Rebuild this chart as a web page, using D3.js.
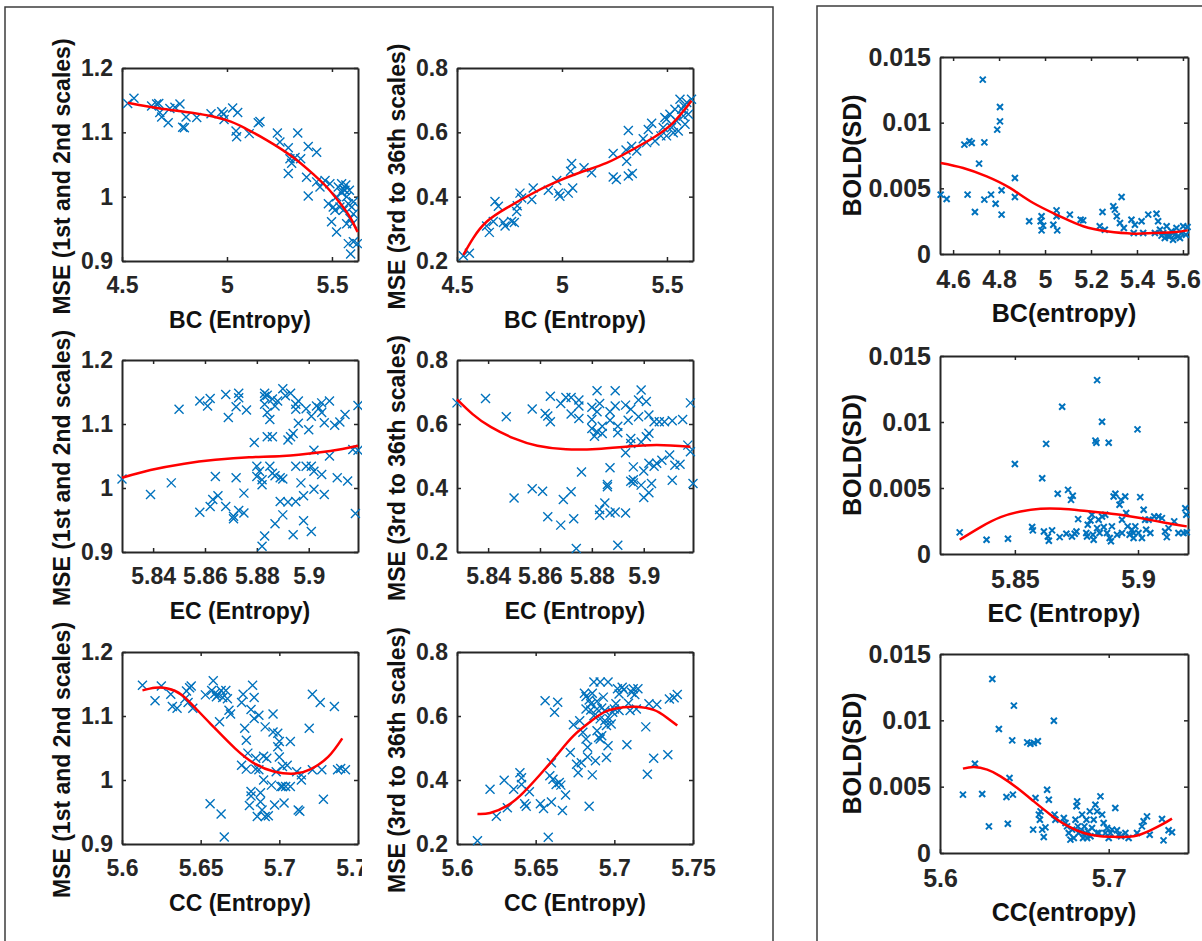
<!DOCTYPE html>
<html>
<head>
<meta charset="utf-8">
<script src="https://cdn.jsdelivr.net/npm/d3@7"></script>
<style>
  body { margin: 0; background: #fff; }
  svg { display: block; font-family: "Liberation Sans", Arial, sans-serif; font-weight: bold; }
</style>
</head>
<body>
<svg id="fig" width="1202" height="941"></svg>
<script>
// ---- tick values ----
var bcTicks = [4.5, 5, 5.5];
var bcBoldTicks = [4.6, 4.8, 5, 5.2, 5.4, 5.6];
var ecTicks = [5.84, 5.86, 5.88, 5.9];
var ecBoldTicks = [5.85, 5.9];
var ccTicks = [5.6, 5.65, 5.7, 5.75];
var ccBoldTicks = [5.6, 5.7];
var mse12Ticks = [0.9, 1, 1.1, 1.2];
var mse336Ticks = [0.2, 0.4, 0.6, 0.8];
var boldTicks = [0, 0.005, 0.01, 0.015];

// ---- BC (entropy) vs MSE 1st/2nd scales ----
var bcMse12 = [[4.527,1.145],[4.557,1.153],[4.641,1.141],[4.665,1.144],[4.675,1.145],[4.68,1.131],[4.689,1.124],
  [4.72,1.115],[4.728,1.137],[4.752,1.139],[4.776,1.144],[4.789,1.108],[4.797,1.107],[4.805,1.124],[4.856,1.123],
  [4.924,1.129],[4.975,1.132],[4.983,1.128],[4.986,1.12],[5.027,1.138],[5.051,1.131],[5.043,1.102],[5.046,1.093],
  [5.106,1.098],[5.149,1.115],[5.157,1.117],[5.24,1.099],[5.252,1.085],[5.292,1.076],[5.337,1.099],[5.3,1.059],
  [5.292,1.036],[5.308,1.052],[5.324,1.061],[5.351,1.059],[5.387,1.078],[5.427,1.069],[5.379,1.03],[5.387,1.001],
  [5.427,1.023],[5.443,1.015],[5.467,1.025],[5.49,1.02],[5.483,0.989],[5.498,0.961],[5.522,0.945],[5.506,0.984],
  [5.53,1.015],[5.546,1.02],[5.554,1.012],[5.562,1.01],[5.57,1.0],[5.578,0.989],[5.586,0.966],[5.594,0.984],
  [5.598,0.958],[5.578,0.927],[5.589,0.911],[5.602,0.93],[5.621,0.927],[5.538,0.984],[5.514,0.979],[5.554,0.979],
  [5.57,0.958],[5.602,0.973],[5.546,1.006],[5.522,1.0],[5.566,1.018],[5.583,1.01],[5.602,0.992]];
var bcMse12Fit = [[4.527,1.146],[4.681,1.137],[4.84,1.13],[4.998,1.119],[5.094,1.105],[5.189,1.088],[5.316,1.061],
  [5.411,1.035],[5.475,1.015],[5.538,0.99],[5.586,0.968],[5.622,0.945]];

// ---- BC (entropy) vs MSE 3rd to 36th scales ----
var bcMse336 = [[4.53,0.216],[4.559,0.224],[4.641,0.309],[4.654,0.289],[4.681,0.385],[4.697,0.37],[4.673,0.323],
  [4.721,0.32],[4.729,0.309],[4.76,0.323],[4.773,0.32],[4.787,0.372],[4.784,0.354],[4.8,0.411],[4.808,0.396],
  [4.863,0.427],[4.856,0.391],[4.935,0.42],[4.975,0.45],[4.983,0.411],[4.99,0.401],[5.046,0.503],[5.041,0.479],
  [5.03,0.411],[5.051,0.427],[5.105,0.49],[5.141,0.474],[5.244,0.534],[5.244,0.461],[5.259,0.453],[5.305,0.545],
  [5.316,0.606],[5.308,0.51],[5.316,0.464],[5.335,0.472],[5.332,0.557],[5.356,0.542],[5.387,0.58],[5.411,0.609],
  [5.427,0.628],[5.403,0.568],[5.443,0.573],[5.482,0.615],[5.49,0.646],[5.498,0.589],[5.514,0.656],[5.522,0.615],
  [5.538,0.672],[5.546,0.635],[5.562,0.703],[5.57,0.672],[5.578,0.651],[5.586,0.625],[5.594,0.693],[5.602,0.656],
  [5.617,0.703],[5.53,0.599],[5.554,0.604],[5.581,0.682],[5.498,0.641],[5.471,0.589]];
var bcMse336Fit = [[4.53,0.219],[4.578,0.272],[4.641,0.322],[4.737,0.365],[4.848,0.406],[4.959,0.442],[5.086,0.475],
  [5.213,0.505],[5.324,0.542],[5.435,0.583],[5.53,0.63],[5.617,0.698]];

// ---- BC (entropy) vs BOLD SD ----
var bcBold = [[4.546,0.00452],[4.572,0.00419],[4.649,0.00833],[4.671,0.00858],[4.681,0.00845],[4.663,0.00452],
  [4.695,0.0032],[4.713,0.00688],[4.729,0.01328],[4.736,0.0085],[4.736,0.00414],[4.765,0.00452],[4.785,0.00383],
  [4.792,0.00947],[4.804,0.0101],[4.804,0.01119],[4.811,0.00485],[4.811,0.003],[4.869,0.00579],[4.869,0.00434],
  [4.931,0.00249],[4.981,0.00249],[4.985,0.00287],[4.985,0.0018],[4.992,0.00216],[5.036,0.00223],[5.05,0.00332],
  [5.05,0.00287],[5.053,0.0018],[5.108,0.003],[5.155,0.00261],[5.166,0.00256],[5.25,0.0032],[5.238,0.00211],
  [5.26,0.00185],[5.297,0.00363],[5.304,0.00338],[5.312,0.00287],[5.333,0.00434],[5.326,0.00236],[5.343,0.00198],
  [5.376,0.00261],[5.386,0.0016],[5.391,0.00223],[5.42,0.00249],[5.427,0.0016],[5.449,0.003],[5.485,0.00307],
  [5.492,0.00249],[5.5,0.00185],[5.514,0.0016],[5.529,0.00211],[5.536,0.00135],[5.55,0.00173],[5.557,0.00109],
  [5.572,0.00198],[5.579,0.00135],[5.594,0.0016],[5.601,0.00211],[5.613,0.00147],[5.62,0.00206],[5.543,0.00135],
  [5.565,0.00147],[5.587,0.00122],[5.521,0.00122],[5.507,0.0014],[5.478,0.0016]];
var bcBoldFit = [[4.546,0.00693],[4.644,0.00655],[4.746,0.00591],[4.847,0.00503],[4.949,0.00388],[5.065,0.00287],
  [5.166,0.00211],[5.268,0.00173],[5.384,0.00155],[5.471,0.0016],[5.557,0.00165],[5.62,0.0018]];

// ---- EC (entropy) vs MSE 1st/2nd scales ----
var ecMse12 = [[5.828,1.014],[5.839,0.99],[5.847,1.008],[5.85,1.123],[5.858,0.962],[5.858,1.136],[5.861,1.128],
  [5.862,1.14],[5.862,0.971],[5.863,0.982],[5.864,1.018],[5.865,0.988],[5.868,1.146],[5.868,0.971],[5.869,1.11],
  [5.871,0.952],[5.871,0.956],[5.872,1.127],[5.872,1.016],[5.873,1.141],[5.873,1.148],[5.873,0.965],[5.875,0.961],
  [5.875,0.992],[5.876,1.122],[5.879,1.071],[5.88,1.034],[5.88,1.018],[5.881,1.026],[5.882,1.013],[5.882,1.005],
  [5.883,1.148],[5.883,1.143],[5.883,1.131],[5.884,1.118],[5.883,0.925],[5.882,0.909],[5.884,1.145],[5.884,1.08],
  [5.885,1.107],[5.885,1.034],[5.886,1.139],[5.886,1.023],[5.886,1.08],[5.887,1.019],[5.887,0.944],[5.887,1.128],
  [5.888,1.136],[5.889,1.016],[5.889,0.979],[5.89,0.958],[5.89,1.155],[5.89,1.014],[5.891,1.144],[5.892,0.978],
  [5.892,1.075],[5.893,1.08],[5.893,1.148],[5.894,0.927],[5.894,1.085],[5.895,0.979],[5.895,1.123],[5.895,1.131],
  [5.895,1.034],[5.896,1.101],[5.896,1.136],[5.897,1.008],[5.898,0.988],[5.898,0.949],[5.899,1.034],[5.899,1.124],
  [5.9,1.091],[5.901,0.932],[5.901,1.112],[5.901,1.034],[5.902,1.026],[5.902,0.998],[5.902,1.059],[5.903,1.128],
  [5.904,1.125],[5.905,1.133],[5.905,1.021],[5.905,1.118],[5.906,1.102],[5.906,0.99],[5.908,1.05],[5.908,1.136],
  [5.91,1.098],[5.911,1.016],[5.912,1.103],[5.914,1.115],[5.915,1.011],[5.917,1.06],[5.918,0.96],[5.919,1.129],
  [5.919,1.059]];
var ecMse12Fit = [[5.828,1.016],[5.839,1.028],[5.852,1.038],[5.864,1.044],[5.877,1.048],[5.89,1.05],[5.903,1.055],
  [5.913,1.061],[5.919,1.066]];

// ---- EC (entropy) vs MSE 3rd to 36th scales ----
var ecMse336 = [[5.828,0.666],[5.839,0.68],[5.847,0.623],[5.85,0.369],[5.857,0.647],[5.857,0.398],[5.861,0.39],
  [5.862,0.633],[5.863,0.31],[5.863,0.625],[5.864,0.607],[5.864,0.687],[5.868,0.284],[5.868,0.664],[5.869,0.364],
  [5.87,0.683],[5.872,0.631],[5.872,0.683],[5.872,0.388],[5.873,0.304],[5.874,0.211],[5.875,0.675],[5.875,0.656],
  [5.875,0.617],[5.876,0.45],[5.88,0.614],[5.88,0.586],[5.88,0.652],[5.881,0.562],[5.882,0.576],[5.882,0.638],
  [5.882,0.704],[5.883,0.664],[5.883,0.333],[5.883,0.315],[5.884,0.593],[5.884,0.57],[5.885,0.353],[5.886,0.411],
  [5.886,0.404],[5.887,0.638],[5.887,0.612],[5.887,0.463],[5.887,0.322],[5.889,0.656],[5.889,0.704],[5.889,0.325],
  [5.89,0.593],[5.89,0.573],[5.89,0.221],[5.893,0.659],[5.893,0.322],[5.893,0.51],[5.894,0.612],[5.895,0.555],
  [5.895,0.421],[5.895,0.646],[5.895,0.539],[5.896,0.426],[5.896,0.416],[5.896,0.466],[5.898,0.623],[5.898,0.675],
  [5.899,0.706],[5.899,0.409],[5.899,0.544],[5.9,0.37],[5.9,0.453],[5.901,0.56],[5.901,0.67],[5.902,0.628],
  [5.902,0.385],[5.902,0.477],[5.902,0.571],[5.903,0.414],[5.904,0.607],[5.904,0.468],[5.905,0.477],[5.906,0.607],
  [5.907,0.487],[5.908,0.607],[5.91,0.503],[5.911,0.61],[5.911,0.424],[5.912,0.471],[5.914,0.474],[5.915,0.614],
  [5.917,0.534],[5.918,0.666],[5.918,0.513],[5.919,0.414]];
var ecMse336Fit = [[5.828,0.677],[5.834,0.631],[5.841,0.591],[5.85,0.555],[5.859,0.532],[5.87,0.521],[5.882,0.522],
  [5.893,0.529],[5.905,0.534],[5.918,0.529]];

// ---- EC (entropy) vs BOLD SD ----
var ecBold = [[5.8276,0.00164],[5.8385,0.00108],[5.8472,0.00116],[5.85,0.00682],[5.857,0.00204],[5.8573,0.00179],
  [5.8611,0.00574],[5.8627,0.00834],[5.8618,0.00171],[5.8634,0.00133],[5.8638,0.00101],[5.8651,0.00179],
  [5.8674,0.00456],[5.8682,0.00128],[5.8692,0.01116],[5.8709,0.00154],[5.8716,0.00486],[5.8728,0.0041],
  [5.8735,0.00441],[5.8732,0.00133],[5.8743,0.00154],[5.875,0.00171],[5.8757,0.00264],[5.879,0.00159],
  [5.8796,0.00222],[5.8807,0.00254],[5.8813,0.00297],[5.8817,0.00146],[5.882,0.00108],[5.8827,0.00859],
  [5.8831,0.00843],[5.8834,0.01317],[5.8834,0.00196],[5.884,0.00259],[5.8844,0.00159],[5.8854,0.01002],
  [5.8854,0.00284],[5.8861,0.00204],[5.8867,0.00297],[5.8874,0.00159],[5.8881,0.00843],[5.8885,0.00121],
  [5.889,0.00096],[5.8894,0.00209],[5.8901,0.00436],[5.8908,0.00456],[5.8915,0.00146],[5.8925,0.00373],
  [5.8931,0.0041],[5.8935,0.00259],[5.8948,0.00436],[5.8952,0.0031],[5.8958,0.00209],[5.8966,0.00146],
  [5.8975,0.00184],[5.8982,0.00121],[5.8989,0.00209],[5.8998,0.00944],[5.9002,0.00159],[5.9009,0.00431],
  [5.9016,0.00121],[5.9023,0.00335],[5.9029,0.00259],[5.9033,0.00184],[5.9043,0.00259],[5.905,0.00159],
  [5.9066,0.00284],[5.9083,0.00284],[5.9097,0.00272],[5.911,0.00171],[5.9117,0.00128],[5.9124,0.00196],
  [5.9147,0.00247],[5.9164,0.00159],[5.9185,0.00159],[5.9192,0.00347],[5.9196,0.00297],[5.9198,0.00164],
  [5.8793,0.00133],[5.8935,0.00159],[5.8982,0.00159]];
var ecBoldFit = [[5.8276,0.00108],[5.8361,0.00204],[5.8442,0.00279],[5.8523,0.00322],[5.8604,0.00342],
  [5.8685,0.00342],[5.8766,0.0033],[5.8847,0.00315],[5.8928,0.00297],[5.9009,0.00272],[5.9104,0.00239],
  [5.9198,0.00209]];

// ---- CC (entropy) vs MSE 1st/2nd scales ----
var ccMse12 = [[5.613,1.148],[5.621,1.124],[5.625,1.147],[5.631,1.134],[5.632,1.115],[5.635,1.112],[5.64,1.127],
  [5.641,1.139],[5.643,1.144],[5.644,1.147],[5.645,1.112],[5.642,1.121],[5.653,1.133],[5.656,0.963],[5.657,1.14],
  [5.658,1.155],[5.659,1.135],[5.66,1.13],[5.661,1.133],[5.662,1.091],[5.663,0.947],[5.663,1.14],[5.664,1.129],
  [5.665,0.911],[5.666,1.14],[5.667,1.127],[5.668,1.109],[5.669,1.103],[5.676,1.121],[5.676,1.023],[5.677,1.134],
  [5.678,1.081],[5.679,1.062],[5.679,1.017],[5.68,1.042],[5.681,0.96],[5.682,0.975],[5.682,1.11],[5.682,0.982],
  [5.683,1.148],[5.684,1.096],[5.684,1.129],[5.685,1.017],[5.685,1.034],[5.686,0.943],[5.687,1.101],[5.687,1.016],
  [5.688,0.966],[5.688,0.98],[5.689,0.953],[5.69,1.037],[5.69,1.0],[5.691,0.943],[5.691,1.083],[5.692,1.034],
  [5.693,0.944],[5.695,0.992],[5.696,1.103],[5.696,1.075],[5.697,0.961],[5.698,1.013],[5.699,1.052],[5.699,1.073],
  [5.7,1.06],[5.7,1.036],[5.701,0.99],[5.702,1.021],[5.702,0.99],[5.703,0.964],[5.704,0.99],[5.705,1.023],
  [5.707,1.06],[5.707,0.99],[5.711,1.013],[5.712,0.953],[5.713,0.951],[5.714,1.0],[5.714,1.008],[5.719,1.081],
  [5.721,1.134],[5.721,1.016],[5.726,1.121],[5.728,0.97],[5.727,1.016],[5.735,1.115],[5.737,1.016],[5.739,1.018],
  [5.742,1.016]];
var ccMse12Fit = [[5.613,1.14],[5.621,1.144],[5.629,1.143],[5.638,1.133],[5.648,1.109],[5.659,1.081],[5.672,1.049],
  [5.684,1.026],[5.697,1.013],[5.71,1.01],[5.72,1.017],[5.731,1.036],[5.74,1.065]];

// ---- CC (entropy) vs MSE 3rd to 36th scales ----
var ccMse336 = [[5.613,0.21],[5.621,0.371],[5.625,0.287],[5.63,0.399],[5.632,0.313],[5.636,0.371],[5.64,0.423],
  [5.641,0.407],[5.641,0.386],[5.643,0.326],[5.644,0.318],[5.646,0.363],[5.653,0.326],[5.655,0.311],[5.656,0.648],
  [5.658,0.221],[5.659,0.413],[5.66,0.331],[5.66,0.454],[5.661,0.402],[5.662,0.612],[5.664,0.643],[5.663,0.386],
  [5.665,0.392],[5.666,0.384],[5.667,0.305],[5.669,0.353],[5.672,0.486],[5.674,0.573],[5.676,0.449],[5.677,0.423],
  [5.678,0.585],[5.679,0.454],[5.68,0.549],[5.681,0.671],[5.682,0.622],[5.682,0.661],[5.683,0.472],[5.683,0.502],
  [5.684,0.318],[5.684,0.65],[5.685,0.638],[5.685,0.619],[5.686,0.671],[5.686,0.416],[5.687,0.601],[5.687,0.706],
  [5.688,0.46],[5.689,0.646],[5.689,0.554],[5.689,0.622],[5.69,0.533],[5.691,0.591],[5.691,0.706],[5.692,0.625],
  [5.692,0.538],[5.693,0.659],[5.694,0.617],[5.694,0.585],[5.695,0.57],[5.695,0.47],[5.696,0.706],[5.696,0.507],
  [5.697,0.591],[5.698,0.575],[5.699,0.612],[5.7,0.622],[5.701,0.638],[5.702,0.685],[5.703,0.669],[5.703,0.617],
  [5.705,0.69],[5.706,0.682],[5.708,0.51],[5.709,0.64],[5.71,0.617],[5.711,0.674],[5.712,0.685],[5.713,0.667],
  [5.714,0.622],[5.715,0.685],[5.72,0.566],[5.721,0.418],[5.722,0.638],[5.725,0.468],[5.727,0.636],[5.734,0.479],
  [5.735,0.653],[5.738,0.657],[5.74,0.667],[5.682,0.528],[5.691,0.528]];
var ccMse336Fit = [[5.613,0.294],[5.621,0.297],[5.632,0.32],[5.642,0.36],[5.653,0.418],[5.664,0.481],[5.674,0.538],
  [5.685,0.583],[5.695,0.615],[5.706,0.627],[5.714,0.629],[5.725,0.619],[5.733,0.596],[5.74,0.57]];

// ---- CC (entropy) vs BOLD SD ----
var ccBold = [[5.6136,0.0044],[5.6207,0.00673],[5.625,0.00445],[5.629,0.00201],[5.631,0.01312],[5.6349,0.00935],
  [5.6394,0.00422],[5.6402,0.00221],[5.6412,0.00565],[5.6428,0.00849],[5.6432,0.0044],[5.6438,0.01111],
  [5.6517,0.00834],[5.6536,0.00824],[5.6556,0.00829],[5.658,0.00842],[5.6552,0.00176],[5.6566,0.00415],
  [5.6586,0.00289],[5.6592,0.00251],[5.6596,0.00314],[5.6606,0.00176],[5.6615,0.00121],[5.6625,0.00193],
  [5.6635,0.00477],[5.6645,0.00402],[5.6675,0.00997],[5.6679,0.00289],[5.6684,0.00251],[5.6734,0.00264],
  [5.6744,0.00226],[5.6753,0.00201],[5.6763,0.00151],[5.6773,0.00101],[5.6783,0.00176],[5.6793,0.00113],
  [5.6803,0.00251],[5.6809,0.00352],[5.6813,0.00389],[5.6817,0.00201],[5.6822,0.00151],[5.6832,0.00163],
  [5.6842,0.00289],[5.6848,0.00113],[5.6856,0.00201],[5.6862,0.00151],[5.6868,0.00251],[5.6876,0.00163],
  [5.6888,0.00314],[5.6892,0.00126],[5.6901,0.00188],[5.6911,0.00251],[5.6921,0.00364],[5.6931,0.00314],
  [5.6941,0.00151],[5.6951,0.00427],[5.6961,0.00289],[5.697,0.00226],[5.698,0.00151],[5.699,0.00188],
  [5.7,0.00113],[5.701,0.00151],[5.702,0.00176],[5.7039,0.00339],[5.7049,0.00171],[5.7059,0.00138],
  [5.7073,0.00126],[5.7099,0.00151],[5.7118,0.00113],[5.7168,0.00151],[5.7197,0.00201],[5.7207,0.00239],
  [5.7227,0.00276],[5.7243,0.00138],[5.7316,0.00256],[5.7325,0.00095],[5.7355,0.00171],[5.7375,0.00156],
  [5.6872,0.00113],[5.6931,0.00151]];
var ccBoldFit = [[5.6136,0.00636],[5.6201,0.00648],[5.628,0.00628],[5.6359,0.00578],[5.6458,0.0049],
  [5.6556,0.00389],[5.6655,0.00289],[5.6753,0.00206],[5.6852,0.00151],[5.6951,0.00126],[5.7049,0.00121],
  [5.7148,0.00126],[5.7247,0.00171],[5.7325,0.00221],[5.7375,0.00259]];

var axisColor = "#262626", markerColor = "#0072BD", fitColor = "#ff0000";
var svg = d3.select("#fig");

// outer frames of the two figure parts
svg.append("rect").attr("x", 5).attr("y", 7).attr("width", 768).attr("height", 960)
  .attr("fill", "none").attr("stroke", "#3c3c3c").attr("stroke-width", 1.5);
svg.append("rect").attr("x", 817).attr("y", 6).attr("width", 420).attr("height", 960)
  .attr("fill", "none").attr("stroke", "#3c3c3c").attr("stroke-width", 1.5);

svg.append("defs").append("clipPath").attr("id", "leftcol")
  .append("rect").attr("x", 0).attr("y", 0).attr("width", 362).attr("height", 941);

function fmt(v) { return String(+v.toFixed(4)); }

function drawPanel(p) {
  var root = svg.append("g");
  if (p.clip) root.attr("clip-path", "url(#" + p.clip + ")");
  var x = d3.scaleLinear().domain(p.xDomain).range([p.left, p.right]),
    y = d3.scaleLinear().domain(p.yDomain).range([p.bottom, p.top]);
  var fs = p.fontSize;

  var styleAxis = function (g) {
    g.select(".domain").attr("stroke", axisColor).attr("stroke-width", 2);
    g.selectAll(".tick line").attr("stroke", axisColor).attr("stroke-width", 1.5);
    g.selectAll("text").attr("fill", axisColor).style("font-size", fs + "px")
      .style("font-family", "'Liberation Sans', Arial, sans-serif").style("font-weight", "bold");
  };

  root.append("g").attr("transform", "translate(0," + p.bottom + ")")
    .call(d3.axisBottom(x).tickValues(p.xTicks).tickSize(-4).tickSizeOuter(0).tickPadding(p.xPad).tickFormat(fmt))
    .call(styleAxis);
  root.append("g").attr("transform", "translate(0," + p.top + ")")
    .call(d3.axisTop(x).tickValues(p.xTicks).tickSize(-4).tickSizeOuter(0).tickFormat(""))
    .call(styleAxis);
  root.append("g").attr("transform", "translate(" + p.left + ",0)")
    .call(d3.axisLeft(y).tickValues(p.yTicks).tickSize(-4).tickSizeOuter(0).tickPadding(9).tickFormat(fmt))
    .call(styleAxis);
  root.append("g").attr("transform", "translate(" + p.right + ",0)")
    .call(d3.axisRight(y).tickValues(p.yTicks).tickSize(-4).tickSizeOuter(0).tickFormat(""))
    .call(styleAxis);

  var s = p.markerSize;
  root.append("g").selectAll("path")
    .data(p.points)
    .enter().append("path")
    .attr("transform", function (d) { return "translate(" + x(d[0]) + "," + y(d[1]) + ")"; })
    .attr("d", "M" + (-s) + "," + (-s) + "L" + s + "," + s + "M" + (-s) + "," + s + "L" + s + "," + (-s))
    .attr("stroke", markerColor).attr("stroke-width", p.markerWidth).attr("fill", "none");

  var line = d3.line()
    .x(function (d) { return x(d[0]); })
    .y(function (d) { return y(d[1]); })
    .curve(d3.curveNatural);
  root.append("path").datum(p.fit)
    .attr("d", line)
    .attr("fill", "none").attr("stroke", fitColor).attr("stroke-width", 2.5);

  root.append("text")
    .attr("x", (p.left + p.right) / 2).attr("y", p.bottom + 59).attr("dy", "0.35em")
    .attr("text-anchor", "middle").attr("fill", "#111").style("font-size", fs + "px")
    .text(p.xLabel);
  root.append("text")
    .attr("transform", "translate(" + p.yLabelX + "," + ((p.top + p.bottom) / 2 + p.yShift) + ") rotate(-90)")
    .attr("dy", "0.35em").attr("text-anchor", "middle").attr("fill", "#111").style("font-size", fs + "px")
    .text(p.yLabel);
}

var leftCol = { left: 122, right: 358, yLabelX: 62, fontSize: 23, markerSize: 4.5, markerWidth: 1.4, xPad: 16, clip: "leftcol", yShift: 12 };
var midCol = { left: 457, right: 693, yLabelX: 397, fontSize: 23, markerSize: 4.5, markerWidth: 1.4, xPad: 16, yShift: 12 };
var rightCol = { left: 940, right: 1188, yLabelX: 852, fontSize: 25, markerSize: 3, markerWidth: 2, xPad: 16, yShift: 0 };
var mainRows = [{ top: 68, bottom: 261 }, { top: 360, bottom: 552 }, { top: 652, bottom: 844 }];
var boldRows = [{ top: 57, bottom: 254 }, { top: 356, bottom: 554 }, { top: 654, bottom: 853 }];

var panels = [
  [leftCol, mainRows[0], { xDomain: [4.5, 5.624], yDomain: [0.9, 1.2], xTicks: bcTicks, yTicks: mse12Ticks, points: bcMse12, fit: bcMse12Fit, xLabel: "BC (Entropy)", yLabel: "MSE (1st and 2nd scales)" }],
  [midCol, mainRows[0], { xDomain: [4.5, 5.624], yDomain: [0.2, 0.8], xTicks: bcTicks, yTicks: mse336Ticks, points: bcMse336, fit: bcMse336Fit, xLabel: "BC (Entropy)", yLabel: "MSE (3rd to 36th scales)" }],
  [rightCol, boldRows[0], { xDomain: [4.543, 5.622], yDomain: [0, 0.015], xTicks: bcBoldTicks, yTicks: boldTicks, points: bcBold, fit: bcBoldFit, xLabel: "BC(entropy)", yLabel: "BOLD(SD)" }],
  [leftCol, mainRows[1], { xDomain: [5.828, 5.919], yDomain: [0.9, 1.2], xTicks: ecTicks, yTicks: mse12Ticks, points: ecMse12, fit: ecMse12Fit, xLabel: "EC (Entropy)", yLabel: "MSE (1st and 2nd scales)" }],
  [midCol, mainRows[1], { xDomain: [5.828, 5.919], yDomain: [0.2, 0.8], xTicks: ecTicks, yTicks: mse336Ticks, points: ecMse336, fit: ecMse336Fit, xLabel: "EC (Entropy)", yLabel: "MSE (3rd to 36th scales)" }],
  [rightCol, boldRows[1], { xDomain: [5.8196, 5.9203], yDomain: [0, 0.015], xTicks: ecBoldTicks, yTicks: boldTicks, points: ecBold, fit: ecBoldFit, xLabel: "EC (Entropy)", yLabel: "BOLD(SD)" }],
  [leftCol, mainRows[2], { xDomain: [5.6, 5.75], yDomain: [0.9, 1.2], xTicks: ccTicks, yTicks: mse12Ticks, points: ccMse12, fit: ccMse12Fit, xLabel: "CC (Entropy)", yLabel: "MSE (1st and 2nd scales)" }],
  [midCol, mainRows[2], { xDomain: [5.6, 5.75], yDomain: [0.2, 0.8], xTicks: ccTicks, yTicks: mse336Ticks, points: ccMse336, fit: ccMse336Fit, xLabel: "CC (Entropy)", yLabel: "MSE (3rd to 36th scales)" }],
  [rightCol, boldRows[2], { xDomain: [5.6, 5.747], yDomain: [0, 0.015], xTicks: ccBoldTicks, yTicks: boldTicks, points: ccBold, fit: ccBoldFit, xLabel: "CC(entropy)", yLabel: "BOLD(SD)" }]
];

panels.forEach(function (d) {
  drawPanel(Object.assign({}, d[0], d[1], d[2]));
});
</script>
</body>
</html>
